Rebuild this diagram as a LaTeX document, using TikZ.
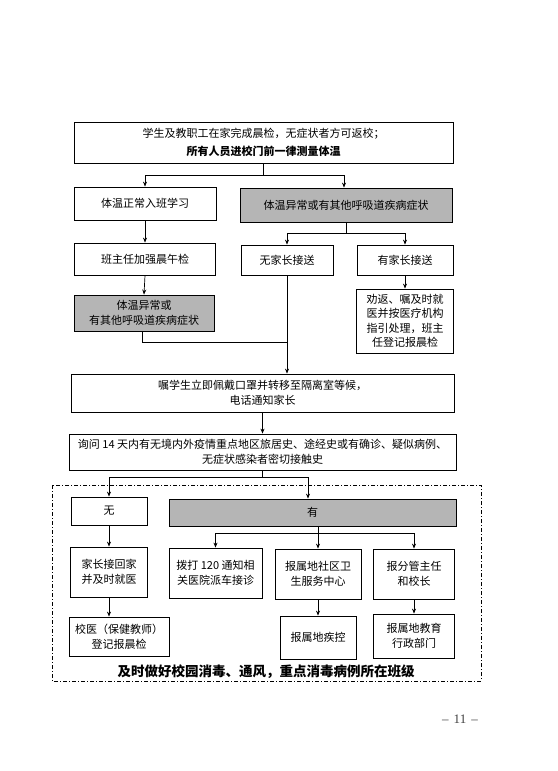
\documentclass[tikz,border=0pt]{standalone}
\usepackage{fontspec}
\setmainfont{Noto Sans CJK SC}
\newfontfamily\latfont{Liberation Serif}
\usetikzlibrary{arrows.meta}
\begin{document}
\begin{tikzpicture}[x=1pt,y=-1pt,
  bx/.style={draw, line width=0.8pt, align=center, inner sep=0pt,
    font=\fontsize{11}{14.5}\selectfont},
  gbx/.style={bx, fill=black!29},
  conn/.style={line width=0.7pt},
  arr/.style={conn, -{Stealth[length=5pt,width=4pt]}}]
\useasboundingbox (0,0) rectangle (557,771);
\fill[white] (0,0) rectangle (557,771);

\node[bx, minimum width=379pt, minimum height=41pt, font=\fontsize{11}{18}\selectfont] (top) at (263.5,142.5)
  {学生及教职工在家完成晨检，无症状者方可返校；\\\textbf{所有人员进校门前一律测量体温}};
\node[bx, minimum width=142pt, minimum height=33pt] (n1) at (145,203.5) {体温正常入班学习};
\node[gbx, minimum width=212pt, minimum height=34pt] (g1) at (346,205) {体温异常或有其他呼吸道疾病症状};
\node[bx, minimum width=141pt, minimum height=32pt] (n2) at (145,259) {班主任加强晨午检};
\node[gbx, minimum width=140pt, minimum height=36pt] (g2) at (144,313) {体温异常或\\有其他呼吸道疾病症状};
\node[bx, minimum width=92pt, minimum height=30pt] (n3) at (287,260) {无家长接送};
\node[bx, minimum width=96pt, minimum height=30pt] (n4) at (405,260) {有家长接送};
\node[bx, minimum width=97pt, minimum height=64pt] (n5) at (405,321) {劝返、嘱及时就\\医并按医疗机构\\指引处理，班主\\任登记报晨检};
\node[bx, minimum width=383pt, minimum height=38pt] (n6) at (262.5,393) {嘱学生立即佩戴口罩并转移至隔离室等候，\\电话通知家长};
\node[bx, minimum width=387pt, minimum height=36pt] (n7) at (262.5,452) {询问 14 天内有无境内外疫情重点地区旅居史、途经史或有确诊、疑似病例、\\无症状感染者密切接触史};

\draw[line width=0.8pt, dash pattern=on 4pt off 2pt on 1pt off 2pt] (52,485) rectangle (481,681);

\node[bx, minimum width=76pt, minimum height=28pt] (n8) at (109,511) {无};
\node[gbx, minimum width=287pt, minimum height=27pt] (g3) at (312.5,512.5) {有};
\node[bx, minimum width=77pt, minimum height=50pt] (n9) at (109,572) {家长接回家\\并及时就医};
\node[bx, minimum width=100pt, minimum height=39pt] (n10) at (119,636.5) {校医（保健教师）\\登记报晨检};
\node[bx, minimum width=93pt, minimum height=50pt] (n11) at (215.5,573) {拨打 120 通知相\\关医院派车接诊};
\node[bx, minimum width=86pt, minimum height=50pt] (n12) at (318,574) {报属地社区卫\\生服务中心};
\node[bx, minimum width=81pt, minimum height=50pt] (n13) at (414,574) {报分管主任\\和校长};
\node[bx, minimum width=76pt, minimum height=43pt] (n14) at (318,637.5) {报属地疾控};
\node[bx, minimum width=81pt, minimum height=44pt] (n15) at (414,636) {报属地教育\\行政部门};

\node[font=\fontsize{13.5}{16}\selectfont\bfseries, inner sep=0pt] (foot) at (266,672) {及时做好校园消毒、通风，重点消毒病例所在班级};
\node[font=\latfont\fontsize{13}{15}\selectfont, inner sep=0pt, text=black!75] (pg) at (460,719) {–\hspace{5pt}11\hspace{5pt}–};

% connectors
\draw[conn] (top.south) -- ++(0,12) coordinate (j1);
\draw[arr] (j1) -| (n1.north);
\draw[arr] (j1) -| ([xshift=-2pt]g1.north);
\draw[arr] (n1.south) -- (n2.north);
\draw[arr] (n2.south) -- (g2.north);
\draw[conn] (g1.south) -- ++(0,11) coordinate (j2);
\draw[arr] (j2) -| (n3.north);
\draw[arr] (j2) -| (n4.north);
\draw[arr] (n4.south) -- (n5.north);
\draw[conn] ([xshift=-2pt]g2.south) -- ++(0,11) -| (n3.south);
\draw[arr] (n3.south) -- (n3.south |- n6.north);
\draw[arr] (n6.south) -- (n7.north);
\draw[conn] (n7.south) -- ++(0,7) coordinate (j3);
\draw[arr] (j3) -| (n8.north);
\draw[arr] (j3) -| ([xshift=-4.5pt]g3.north);
\draw[arr] (n8.south) -- (n9.north);
\draw[arr] (n9.south) -- (n9.south |- n10.north);
\draw[conn] (g3.south -| n12.north) -- ++(0,7) coordinate (j4);
\draw[arr] (j4) -| (n11.north);
\draw[arr] (j4) -- (n12.north);
\draw[arr] (j4) -| (n13.north);
\draw[arr] (n12.south) -- (n14.north);
\draw[arr] (n13.south) -- (n15.north);
\end{tikzpicture}
\end{document}
